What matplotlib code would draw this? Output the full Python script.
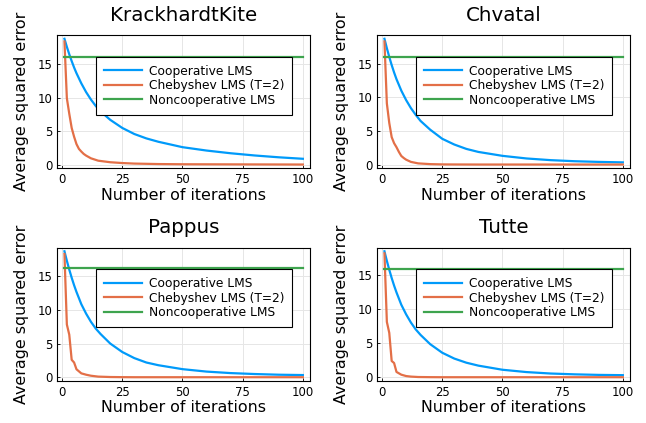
import matplotlib
matplotlib.use("Agg")
import matplotlib.pyplot as plt

# ---------------- data ----------------
TITLES = ["KrackhardtKite", "Chvatal", "Pappus", "Tutte"]
SERIES_NAMES = ["Cooperative LMS", "Chebyshev LMS (T=2)", "Noncooperative LMS"]

ITER_COOP = [1, 2, 3, 4, 5, 6, 8, 10, 12, 14, 16, 20, 25, 30, 35, 40, 50, 60, 70, 80, 90, 100]
ITER_CHEB = [1, 2, 3, 4, 5, 6, 7, 8, 9, 10, 12, 15, 20, 25, 30, 40, 50, 100]
ITER_NONCOOP = [1, 100]

COOP_KRACKHARDT = [18.7, 17.5, 16.4, 15.4, 14.45, 13.6, 12.1, 10.8, 9.7, 8.75, 7.95, 6.7, 5.5, 4.6, 3.95, 3.45, 2.65, 2.15, 1.75, 1.42, 1.15, 0.93]
COOP_CHVATAL = [18.7, 17.3, 16.0, 14.8, 13.7, 12.7, 11.0, 9.6, 8.4, 7.4, 6.5, 5.2, 3.85, 3.0, 2.35, 1.9, 1.32, 0.93, 0.68, 0.52, 0.42, 0.35]
COOP_PAPPUS = [18.6, 17.2, 15.9, 14.7, 13.6, 12.6, 10.8, 9.4, 8.2, 7.2, 6.4, 5.0, 3.75, 2.85, 2.2, 1.8, 1.22, 0.86, 0.64, 0.5, 0.4, 0.35]
COOP_TUTTE = [18.4, 17.0, 15.7, 14.5, 13.4, 12.4, 10.6, 9.2, 8.0, 7.0, 6.2, 4.85, 3.6, 2.75, 2.15, 1.72, 1.12, 0.78, 0.57, 0.45, 0.37, 0.33]

CHEB_KRACKHARDT = [18.3, 9.9, 7.6, 5.5, 4.2, 3.1, 2.4, 2.0, 1.65, 1.4, 1.0, 0.65, 0.42, 0.3, 0.22, 0.15, 0.12, 0.08]
CHEB_CHVATAL = [18.3, 9.1, 6.2, 4.1, 3.2, 2.6, 1.9, 1.3, 1.0, 0.75, 0.42, 0.2, 0.09, 0.05, 0.04, 0.03, 0.03, 0.03]
CHEB_PAPPUS = [18.2, 7.8, 6.3, 2.6, 2.2, 1.2, 0.9, 0.6, 0.5, 0.4, 0.25, 0.12, 0.06, 0.04, 0.03, 0.03, 0.03, 0.03]
CHEB_TUTTE = [18.1, 8.1, 6.5, 2.4, 2.1, 0.8, 0.6, 0.4, 0.3, 0.2, 0.12, 0.06, 0.04, 0.03, 0.03, 0.03, 0.03, 0.03]

NONCOOP_KRACKHARDT = [16.0, 16.0]
NONCOOP_CHVATAL = [16.04, 16.04]
NONCOOP_PAPPUS = [16.15, 16.15]
NONCOOP_TUTTE = [15.8, 15.8]

COOP = [COOP_KRACKHARDT, COOP_CHVATAL, COOP_PAPPUS, COOP_TUTTE]
CHEB = [CHEB_KRACKHARDT, CHEB_CHVATAL, CHEB_PAPPUS, CHEB_TUTTE]
NONCOOP = [NONCOOP_KRACKHARDT, NONCOOP_CHVATAL, NONCOOP_PAPPUS, NONCOOP_TUTTE]

X_TICKS = [0, 25, 50, 75, 100]
Y_TICKS = [0, 5, 10, 15]
X_LABEL = "Number of iterations"
Y_LABEL = "Average squared error"

# ---------------- style ----------------
COLORS = ["#009AFA", "#E36F47", "#3EA44E"]
plt.rcParams["font.family"] = ["DejaVu Sans"]

W, H = 646, 423
fig = plt.figure(figsize=(W / 100, H / 100), dpi=100)

# axes boxes in pixels: (left, top, right, bottom)
boxes = [
    (57.3, 35.0, 310.0, 168.3),
    (377.3, 35.0, 630.0, 168.3),
    (57.3, 247.5, 310.0, 381.0),
    (377.3, 247.5, 630.0, 381.0),
]

for i, (l, t, r, b) in enumerate(boxes):
    ax = fig.add_axes([l / W, 1 - b / H, (r - l) / W, (b - t) / H])
    ax.plot(ITER_COOP, COOP[i], color=COLORS[0], lw=1.6, label=SERIES_NAMES[0], zorder=3)
    ax.plot(ITER_CHEB, CHEB[i], color=COLORS[1], lw=1.6, label=SERIES_NAMES[1], zorder=4)
    ax.plot(ITER_NONCOOP, NONCOOP[i], color=COLORS[2], lw=1.6, label=SERIES_NAMES[2], zorder=5)
    ax.margins(x=0.03, y=0.03)
    ax.set_xticks(X_TICKS)
    ax.set_yticks(Y_TICKS)
    ax.grid(True, color="#e6e6e6", lw=0.7, zorder=0)
    ax.set_axisbelow(True)
    for s in ax.spines.values():
        s.set_color("black")
        s.set_linewidth(0.8)
    ax.tick_params(direction="in", length=2.5, width=0.6, labelsize=8.4, pad=3.5,
                   colors="black")
    ax.set_title(TITLES[i], fontsize=14.3, pad=10.3)
    ax.set_xlabel(X_LABEL, fontsize=11.4, labelpad=1)
    ax.set_ylabel(Y_LABEL, fontsize=11.4, labelpad=6)
    leg = ax.legend(loc="upper right", bbox_to_anchor=(0.9288, 0.837), borderaxespad=0,
                    fontsize=8.8, frameon=True, fancybox=False, framealpha=1,
                    edgecolor="black", handlelength=3.1, handletextpad=0.55,
                    labelspacing=0.12, borderpad=0.65)
    leg.get_frame().set_linewidth(0.8)
    leg.set_zorder(10)

fig.savefig("out.png", dpi=100)
